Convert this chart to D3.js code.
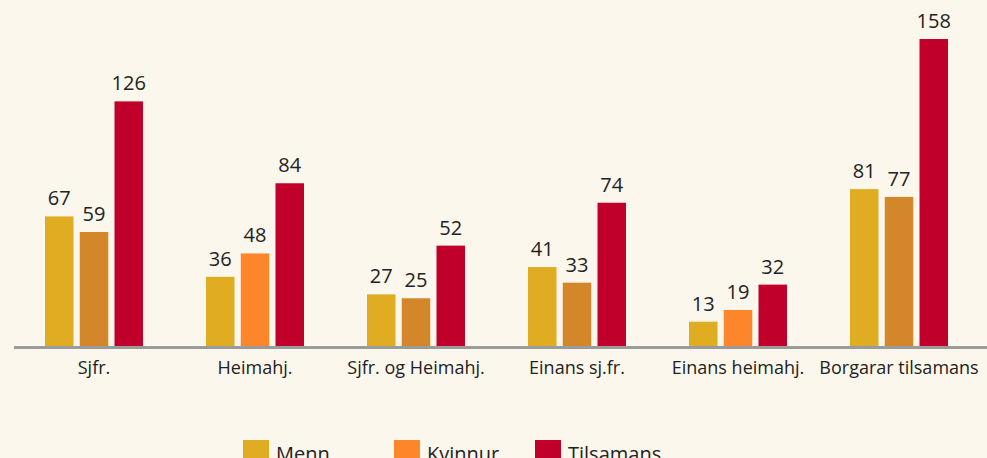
<!DOCTYPE html>
<html>
<meta charset="utf-8">
<script src="https://d3js.org/d3.v7.js"></script>
<style>
    body { margin: 0; background: #fcf7ec; }
    text { font-family: "Open Sans", Lato, sans-serif; fill: #222; }
</style>
<body>
    <div id="chart"></div>
    <script>

        // categories and series
        var categories = ["Sjfr.", "Heimahj.", "Sjfr. og Heimahj.", "Einans sj.fr.", "Einans heimahj.", "Borgarar tilsamans"];
        var seriesNames = ["Menn", "Kvinnur", "Tilsamans"];
        var menn = [67, 36, 27, 41, 13, 81];
        var kvinnur = [59, 48, 25, 33, 19, 77];
        var tilsamans = [126, 84, 52, 74, 32, 158];

        // colours (Kvinnur bars are drawn darker in some groups in the original)
        var seriesColors = ["#e0ad22", "#fd862b", "#c0002b"];
        var kvinnurDark = "#d4872a";
        var kvinnurBright = [false, true, false, false, true, false];

        var width = 987, height = 458;

        var svg = d3.select("#chart")
            .append("svg")
            .attr("width", width)
            .attr("height", height);

        // x scale for groups
        var x0 = d3.scaleBand()
            .domain(categories)
            .range([13.5, 979.5])
            .padding(0);

        // x scale for bars inside a group
        var x1 = d3.scaleBand()
            .domain(seriesNames)
            .range([-49, 49])
            .paddingInner(0.18);

        var y = d3.scaleLinear()
            .domain([0, 158])
            .range([347, 39]);

        var data = [];
        categories.forEach(function (c, i) {
            var vals = [menn[i], kvinnur[i], tilsamans[i]];
            seriesNames.forEach(function (s, j) {
                var col = seriesColors[j];
                if (j == 1 && !kvinnurBright[i]) col = kvinnurDark;
                data.push({ cat: c, series: s, value: vals[j], color: col });
            });
        });

        var groups = svg.append("g");

        groups.selectAll("rect")
            .data(data)
            .enter()
            .append("rect")
            .attr("x", function (d) { return x0(d.cat) + x0.bandwidth() / 2 + x1(d.series) })
            .attr("y", function (d) { return y(d.value) })
            .attr("width", x1.bandwidth())
            .attr("height", function (d) { return y(0) - y(d.value) })
            .style("fill", function (d) { return d.color });

        // value labels
        groups.selectAll(".val")
            .data(data)
            .enter()
            .append("text")
            .attr("class", "val")
            .attr("x", function (d) { return x0(d.cat) + x0.bandwidth() / 2 + x1(d.series) + x1.bandwidth() / 2 })
            .attr("y", function (d) { return y(d.value) - 11 })
            .attr("text-anchor", "middle")
            .style("font-size", "20px")
            .text(function (d) { return d.value });

        // baseline
        svg.append("line")
            .attr("x1", 14)
            .attr("x2", width)
            .attr("y1", y(0) + 0.5)
            .attr("y2", y(0) + 0.5)
            .style("stroke", "#9b9b9b")
            .style("stroke-width", 3);

        // category labels
        svg.selectAll(".cat")
            .data(categories)
            .enter()
            .append("text")
            .attr("class", "cat")
            .attr("x", function (d) { return x0(d) + x0.bandwidth() / 2 })
            .attr("y", 374)
            .attr("text-anchor", "middle")
            .style("font-size", "18px")
            .text(function (d) { return d });

        // legend
        var legendX = [243, 394, 535];
        var legend = svg.selectAll(".leg")
            .data(seriesNames)
            .enter()
            .append("g")
            .attr("class", "leg")
            .attr("transform", function (d, i) { return "translate(" + legendX[i] + ",440)" });

        legend.append("rect")
            .attr("width", 26)
            .attr("height", 22)
            .style("fill", function (d, i) { return seriesColors[i] });

        legend.append("text")
            .attr("x", 33)
            .attr("y", 21)
            .style("font-size", "20px")
            .text(function (d) { return d });

    </script>
</body>
</html>
